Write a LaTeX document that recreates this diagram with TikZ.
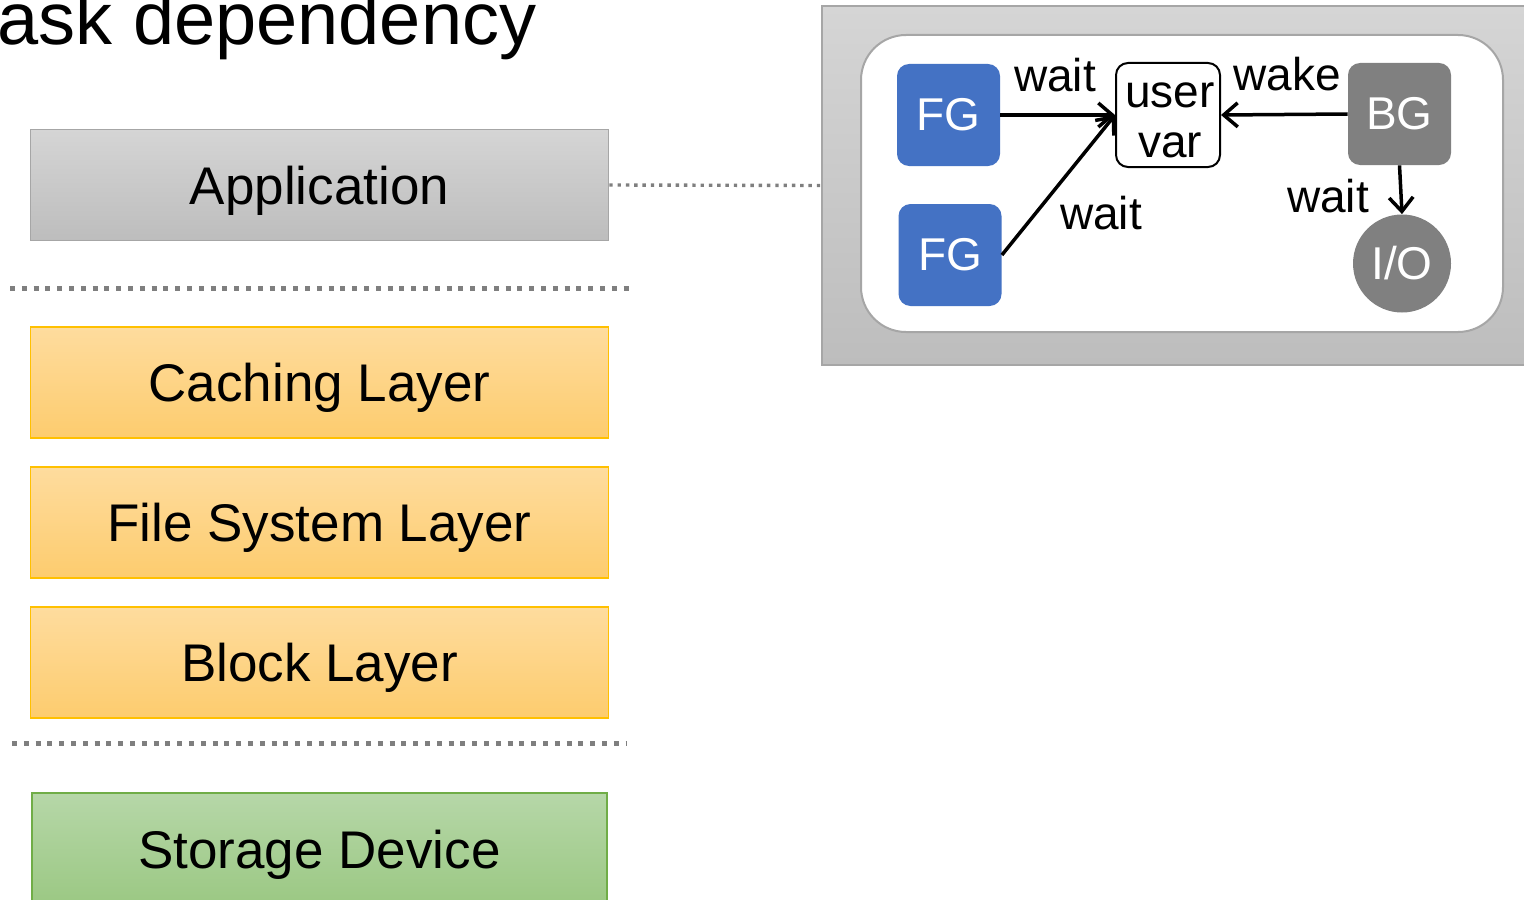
\documentclass[tikz,border=0pt]{standalone}
\usepackage{fontspec}
\setmainfont{Liberation Sans}
\usetikzlibrary{arrows.meta}
\definecolor{appA}{HTML}{D5D5D5}
\definecolor{appB}{HTML}{BDBDBD}
\definecolor{appE}{HTML}{A6A6A6}
\definecolor{orA}{HTML}{FEDC9E}
\definecolor{orB}{HTML}{FDCC6E}
\definecolor{orE}{HTML}{FFC000}
\definecolor{grA}{HTML}{B6D7A8}
\definecolor{grB}{HTML}{9BC883}
\definecolor{grE}{HTML}{70AD47}
\definecolor{fgblue}{HTML}{4472C4}
\definecolor{bggray}{HTML}{808080}
\definecolor{sepgray}{HTML}{7F7F7F}
\begin{document}
\begin{tikzpicture}[x=0.5pt,y=-0.5pt,
  layerbox/.style={draw=appE,line width=0.75pt,minimum width=289pt,minimum height=55.5pt,inner sep=0pt,
    text height=19pt,text depth=0pt,
    font=\fontsize{26.5}{30}\selectfont},
  appbox/.style={layerbox,top color=appA,bottom color=appB},
  orbox/.style={layerbox,draw=orE,top color=orA,bottom color=orB},
  grbox/.style={layerbox,draw=grE,top color=grA,bottom color=grB},
  sep/.style={draw=sepgray,line width=2.5pt,dash pattern=on 2.5pt off 3.4pt},
  task/.style={rounded corners=6pt,minimum width=51.5pt,minimum height=51pt,inner sep=0pt,text=white,
    font=\fontsize{23}{25}\selectfont},
  lbl/.style={font=\fontsize{23}{25}\selectfont,inner sep=0pt},
  dep/.style={line width=1.75pt,-{Straight Barb[length=7pt,width=12pt,line width=1.75pt]}}
]
\useasboundingbox (0,0) rectangle (1524,899);
% title
\node[anchor=base west,inner sep=0pt,font=\fontsize{37}{40}\selectfont] (title) at (-3,45) {ask dependency};
% layers
\node[appbox] (app) at (319.5,185) {Application};
\node[orbox] (cache) at (319.5,382.5) {Caching Layer};
\node[orbox] (fs) at (319.5,522.5) {File System Layer};
\node[orbox] (blk) at (319.5,662.5) {Block Layer};
\node[grbox,minimum width=287.5pt,minimum height=56pt] (stor) at (319.5,849) {Storage Device};
\coordinate (s1a) at (10,288); \coordinate (s1b) at (630,288);
\coordinate (s2a) at (12,743); \coordinate (s2b) at (626,743);
\draw[sep] (s1a) -- (s1b);
\draw[sep] (s2a) -- (s2b);
% panel
\node[draw=appE,line width=0.75pt,top color=appA,bottom color=appB,minimum width=354pt,minimum height=179.5pt,inner sep=0pt] (panel) at (1176,185.5) {};
\node[draw=appE,line width=1pt,fill=white,rounded corners=22.5pt,minimum width=321pt,minimum height=148.5pt,inner sep=0pt] (inner) at (1182,183.5) {};
\draw[sepgray,line width=1.7pt,dash pattern=on 1.7pt off 2.45pt] (app.east) -- (panel.west);
% tasks
\node[task,fill=fgblue] (fg1) at (948.5,115) {FG};
\node[task,fill=fgblue] (fg2) at (950,255) {FG};
\node[task,fill=bggray] (bg) at (1399.5,114) {BG};
\node[circle,fill=bggray,minimum size=49pt,inner sep=0pt,text=white,font=\fontsize{23}{25}\selectfont] (io) at (1402,263.5) {I/O};
\node[draw=black,line width=1pt,fill=white,rounded corners=6pt,minimum width=52pt,minimum height=52pt,inner sep=0pt,align=center,
  font=\fontsize{23}{25}\selectfont] (uv) at (1168,115) {};
\node[font=\fontsize{23}{25}\selectfont,inner sep=0pt,anchor=base] (uvt1) at (1170,107) {user};
\node[font=\fontsize{23}{25}\selectfont,inner sep=0pt,anchor=base] (uvt2) at (1170,157) {var};
% connectors
\draw[dep] (fg1.east) -- (uv.west);
\draw[dep] (fg2.east) -- (uv.west);
\draw[dep] (bg.west) -- (uv.east);
\draw[dep] (bg.south) -- (io.north);
% labels
\node[lbl] (l1) at (1055,75) {wait};
\node[lbl] (l2) at (1101,213) {wait};
\node[lbl] (l3) at (1287,74) {wake};
\node[lbl] (l4) at (1328,196) {wait};
\end{tikzpicture}
\end{document}
